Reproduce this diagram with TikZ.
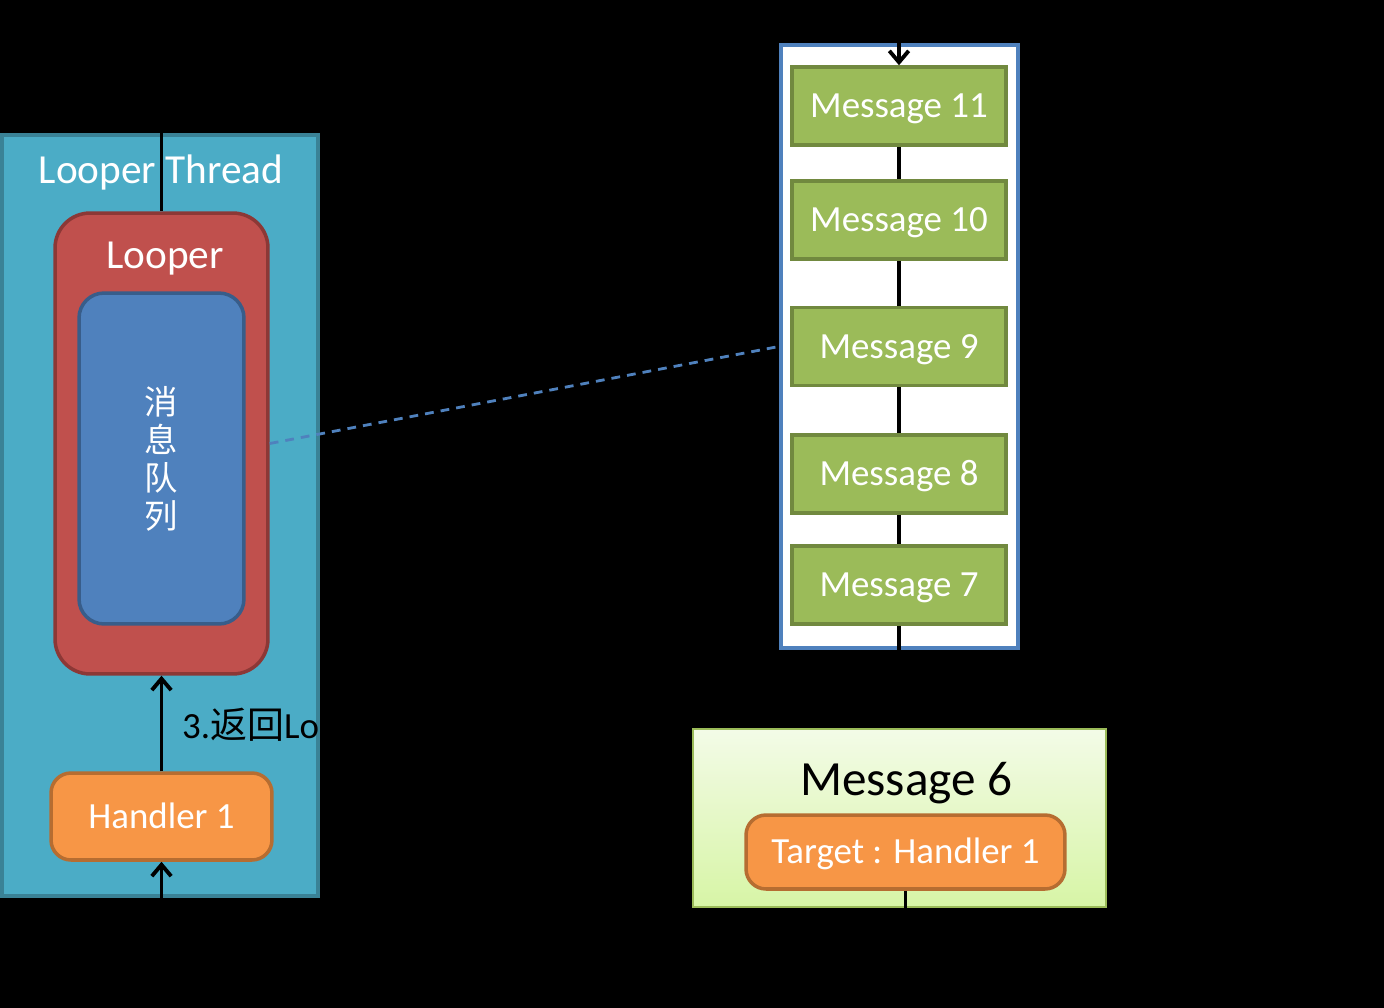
\documentclass[tikz,border=0pt]{standalone}
\usepackage{fontspec}
\setmainfont{Carlito}
\newfontfamily\cjk{Noto Sans CJK SC}
\usetikzlibrary{arrows.meta,positioning}

\definecolor{threadblue}{HTML}{4BACC6}
\definecolor{threadedge}{HTML}{3A8296}
\definecolor{looperred}{HTML}{C0504D}
\definecolor{looperedge}{HTML}{8C3836}
\definecolor{queueblue}{HTML}{4F81BD}
\definecolor{queueedge}{HTML}{385D8A}
\definecolor{handlerorange}{HTML}{F79646}
\definecolor{handleredge}{HTML}{B66D31}
\definecolor{msggreen}{HTML}{9BBB59}
\definecolor{msgedge}{HTML}{71893F}
\definecolor{msgtop}{HTML}{F3FBE7}
\definecolor{msgbottom}{HTML}{D7F5A6}

\tikzset{
  bigtext/.style={font=\fontsize{23.5}{28}\selectfont},
  msgtext/.style={font=\fontsize{21}{25}\selectfont, text height=14.7pt, text depth=1.2pt},
  msgbox/.style={draw=msgedge, fill=msggreen, line width=2pt, text=white, msgtext,
    minimum width=4.28cm, minimum height=1.56cm, inner sep=0pt},
  handlerbox/.style={draw=handleredge, fill=handlerorange, line width=2pt, text=white,
    msgtext, rounded corners=0.4cm, inner sep=0pt},
  link/.style={draw=black, line width=2.2pt},
}

\begin{document}
\begin{tikzpicture}[x=0.02cm, y=-0.02cm, >={Straight Barb[length=6.5pt,width=11pt]}]
  % background
  \fill[black] (0,0) rectangle (1384,1008);
  \useasboundingbox (0,0) rectangle (1384,1008);

  % looper thread side
  \node[draw=threadedge, fill=threadblue, line width=2pt, minimum width=6.32cm,
    minimum height=15.22cm, inner sep=0pt] (thread) at (160,515.5) {};
  \node[bigtext, text=white] (threadlabel) at (161,172) {Looper Thread};
  \node[draw=looperedge, fill=looperred, line width=2pt, rounded corners=0.7cm,
    minimum width=4.26cm, minimum height=9.22cm, inner sep=0pt] (looper) at (161.5,443.5) {};
  \node[bigtext, text=white] (looperlabel) at (165,259) {Looper};
  \node[draw=queueedge, fill=queueblue, line width=2pt, rounded corners=0.5cm,
    minimum width=3.3cm, minimum height=6.62cm, inner sep=0pt] (queue) at (161.5,458.5) {};
  \node[text=white, align=center, font=\cjk\fontsize{19}{21.5}\selectfont] (queuelabel)
    at (161,459) {消\\息\\队\\列};
  \node[handlerbox, minimum width=4.42cm, minimum height=1.74cm] (h1) at (161.5,816.5) {Handler 1};
  \node[font=\fontsize{21}{25}\selectfont, text=black, anchor=west] (step3) at (176,725) {3.{\cjk 返回}Lo};

  \coordinate (threadtop) at (161.5,100);
  \coordinate (threadbottom) at (161.5,940);
  \draw[link] (threadtop) -- (looper.north);
  \draw[link,->] (h1.north) -- (looper.south);
  \draw[link,->] (threadbottom) -- (h1.south);

  % message queue side
  \node[draw=queueblue, fill=white, line width=2.5pt, minimum width=4.74cm,
    minimum height=12.06cm, inner sep=0pt] (msgqueue) at (899.5,346.5) {};
  \node[msgbox] (m11) at (899,106) {Message 11};
  \node[msgbox] (m10) at (899,220) {Message 10};
  \node[msgbox] (m9) at (899,346.5) {Message 9};
  \node[msgbox] (m8) at (899,474) {Message 8};
  \node[msgbox] (m7) at (899,585) {Message 7};

  \node[draw=msggreen, line width=1.5pt, top color=msgtop, bottom color=msgbottom,
    minimum width=8.26cm, minimum height=3.56cm, inner sep=0pt] (m6) at (899.5,818) {};
  \node[text=black, font=\fontsize{28}{33}\selectfont] (m6label) at (906,783) {Message 6};
  \node[handlerbox, minimum width=6.38cm, minimum height=1.48cm] (target) at (905.5,852) {Target : Handler 1};

  \coordinate (queuetop) at (899,10);
  \coordinate (targetout) at (905.5,950);
  \draw[link,->] (queuetop) -- (m11.north);
  \draw[link] (m11) -- (m10);
  \draw[link] (m10) -- (m9);
  \draw[link] (m9) -- (m8);
  \draw[link] (m8) -- (m7);
  \draw[link] (m7.south) -- (m7.south |- m6.north);
  \draw[link] (target.south) -- (targetout);

  % queue link
  \coordinate (queuein) at (msgqueue.west |- m9);
  \draw[queueblue, line width=1.6pt, dash pattern=on 5pt off 4pt] (looper.east) -- (queuein);
\end{tikzpicture}
\end{document}
